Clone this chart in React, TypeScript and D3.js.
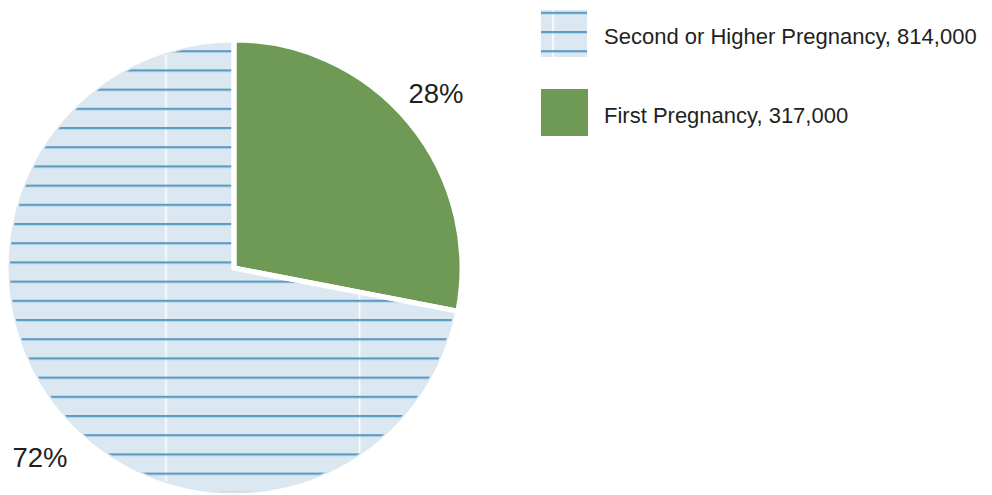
import React from "react";
import * as d3 from "d3";

const categories = ["First Pregnancy", "Second or Higher Pregnancy"];
const values = [317000, 814000];
const percentLabels = ["28%", "72%"];
const legendOrder = [1, 0];

const W = 992;
const H = 495;
const CX = 234;
const CY = 268;
const R = 228;
const GREEN = "#6e9a56";
const LIGHT = "#dce8f1";
const LINE = "#5a9bc3";
const TEXT = "#231f20";
const FONT = "'Liberation Sans', Arial, Helvetica, sans-serif";

const PW = 193.5;
const PH = 19.2;
const HY = 12.9 - 1.1;
const VX = 166 - 0.75;

function Patterns({ id, ox, oy }: { id: string; ox: number; oy: number }) {
  return (
    <>
      <pattern id={id + "h"} patternUnits="userSpaceOnUse" x={0} y={HY - oy} width={PW} height={PH}>
        <rect x={0} y={0} width={PW} height={2.2} fill={LINE} />
      </pattern>
      <pattern id={id + "v"} patternUnits="userSpaceOnUse" x={VX - ox} y={0} width={PW} height={PH}>
        <rect x={0} y={0} width={1.5} height={PH} fill="#ffffff" />
      </pattern>
    </>
  );
}

export default function App() {
  const pie = d3.pie<number>().sort(null).value((d) => d);
  const arcs = pie(values);
  const arc = d3.arc<d3.PieArcDatum<number>>().innerRadius(0).outerRadius(R);
  const arcInner = d3.arc<d3.PieArcDatum<number>>().innerRadius(0).outerRadius(R - 4);
  const fmt = d3.format(",");

  const labelPos = [
    { x: 436, y: 103 },
    { x: 40, y: 467 },
  ];

  return (
    <svg width={W} height={H} style={{ position: "absolute", left: 0, top: 0, display: "block" }}>
      <defs>
        <Patterns id="g" ox={0} oy={0} />
        <Patterns id="p" ox={CX} oy={CY} />
      </defs>
      <rect width={W} height={H} fill="#fff" />
      <g transform={`translate(${CX},${CY})`}>
        {arcs.map((a, i) =>
          i === 0 ? (
            <path key={"f" + i} d={arc(a) || ""} fill={GREEN} />
          ) : (
            <g key={"f" + i}>
              <path d={arc(a) || ""} fill={LIGHT} />
              <path d={arcInner(a) || ""} fill="url(#pv)" />
              <path d={arcInner(a) || ""} fill="url(#ph)" />
            </g>
          )
        )}
        {arcs.map((a, i) => (
          <path key={"s" + i} d={arc(a) || ""} fill="none" stroke="#fff" strokeWidth={5} strokeLinejoin="miter" />
        ))}
      </g>
      {arcs.map((a, i) => (
        <text
          key={"l" + i}
          x={labelPos[i].x}
          y={labelPos[i].y}
          textAnchor="middle"
          fontFamily={FONT}
          fontSize={27.5}
          fill={TEXT}
        >
          {percentLabels[i]}
        </text>
      ))}
      {legendOrder.map((idx, k) => {
        const y0 = 10 + k * 79;
        return (
          <g key={"lg" + k}>
            {idx === 1 ? (
              <g>
                <rect x={541} y={y0} width={46} height={47} fill={LIGHT} />
                <rect x={541} y={y0} width={46} height={47} fill="url(#gv)" />
                <rect x={541} y={y0} width={46} height={47} fill="url(#gh)" />
              </g>
            ) : (
              <rect x={541} y={y0} width={47} height={47} fill={GREEN} />
            )}
            <text x={604} y={y0 + 33.5} fontFamily={FONT} fontSize={22} fill={TEXT}>
              {`${categories[idx]}, ${fmt(values[idx])}`}
            </text>
          </g>
        );
      })}
    </svg>
  );
}
